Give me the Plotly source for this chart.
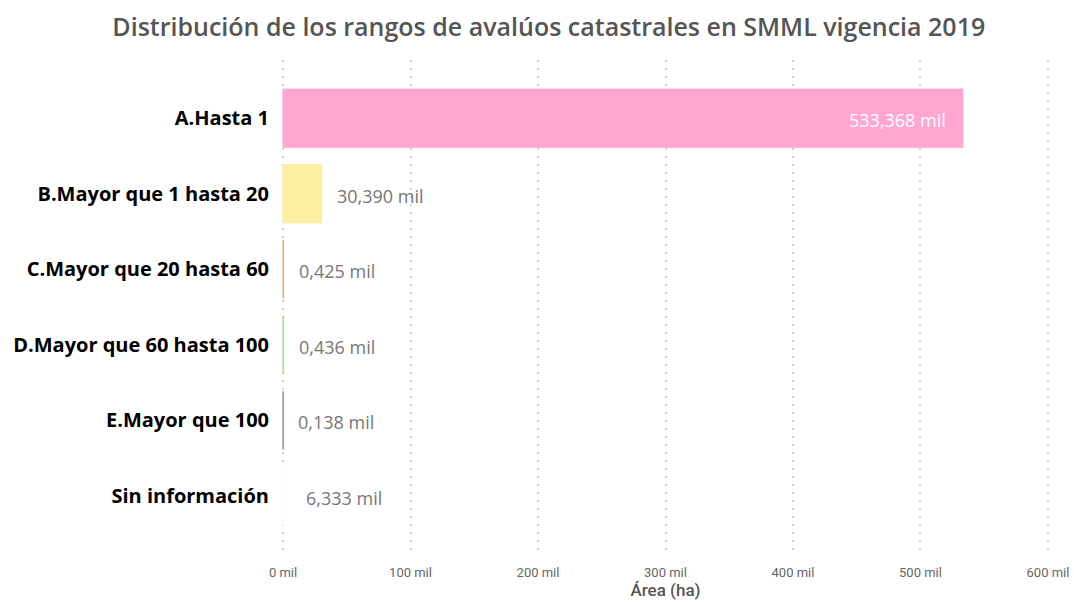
import plotly.graph_objects as go

categories = ["A.Hasta 1", "B.Mayor que 1 hasta 20", "C.Mayor que 20 hasta 60",
              "D.Mayor que 60 hasta 100", "E.Mayor que 100", "Sin información"]
values = [533368, 30390, 425, 436, 138, 6333]
colors = ["#FFA7D1", "#FDEFA0", "#F4AA6E", "#A9E28C", "#8E9C86", "#FFFFFF"]
tick_vals = [0, 100000, 200000, 300000, 400000, 500000, 600000]
tick_text = ["0 mil", "100 mil", "200 mil", "300 mil", "400 mil", "500 mil", "600 mil"]

labels = [f"{v/1000:,.3f}".replace(".", ",") + " mil" for v in values]

fig = go.Figure()
fig.add_trace(go.Bar(
    y=categories, x=values, orientation="h",
    marker=dict(color=colors, line=dict(width=1, color=colors)),
    hoverinfo="skip",
))

annotations = []
for i, (c, v, t) in enumerate(zip(categories, values, labels)):
    if i == 0:
        annotations.append(dict(x=v, y=c, text=t, xanchor="right", xshift=-15, yshift=-2,
                                showarrow=False, font=dict(color="white", size=18, family="Open Sans")))
    else:
        annotations.append(dict(x=v, y=c, text=t, xanchor="left", xshift=13, yshift=-2,
                                showarrow=False, font=dict(color="#777777", size=18, family="Open Sans")))

fig.update_layout(
    width=1074, height=602,
    margin=dict(l=282, r=25, t=60, b=47, autoexpand=False),
    plot_bgcolor="white", paper_bgcolor="white",
    bargap=0.23,
    showlegend=False,
    title=dict(text="Distribución de los rangos de avalúos catastrales en SMML vigencia 2019",
               x=0.511, xanchor="center", y=0.955, yanchor="middle",
               font=dict(family="Open Sans", size=25, color="#555555", weight=600)),
    annotations=annotations,
    xaxis=dict(range=[-800, 600800], tickvals=tick_vals, ticktext=tick_text,
               showgrid=True, gridcolor="#D0D0D0", griddash="2px,6px", gridwidth=2,
               zeroline=False, showline=False, automargin=False,
               ticklabelstandoff=8,
               tickfont=dict(family="Roboto", size=13, color="#666666"),
               title=dict(text="Área (ha)", standoff=4, font=dict(family="Roboto", size=17, color="#555555", weight=500))),
    yaxis=dict(categoryorder="array", categoryarray=categories,
               range=[5.78, -0.77], showgrid=False, zeroline=False, showline=False,
               ticklabelstandoff=12, automargin=False,
               tickfont=dict(family="Open Sans", size=20, color="#000000", weight="bold")),
)

fig.write_html("out.html", config={"displayModeBar": False},
               post_script="document.body.style.margin='0';document.body.style.padding='0';")
